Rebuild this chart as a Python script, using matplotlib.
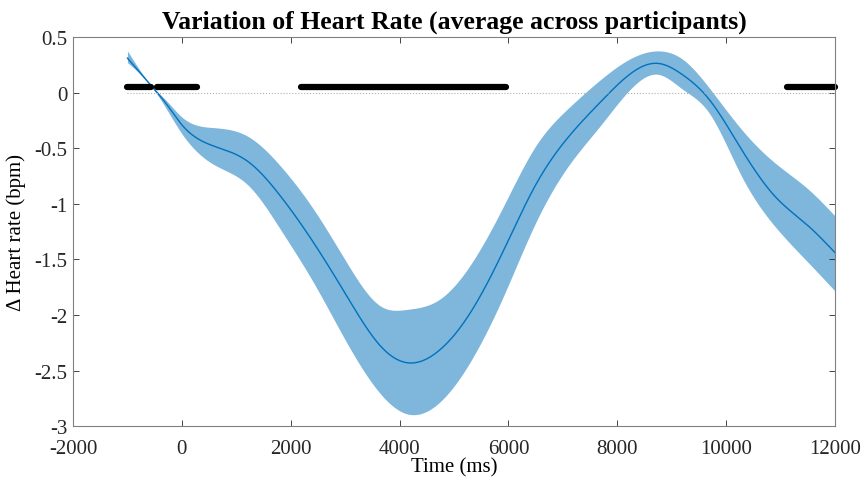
import numpy as np
import matplotlib.pyplot as plt
from matplotlib.ticker import FuncFormatter

plt.rcParams['font.family'] = ['Liberation Serif', 'DejaVu Serif']
plt.rcParams['axes.unicode_minus'] = False

# values
time_ms = [-1000, -560, -280, 0, 580, 1200, 1810, 2420, 3030, 3650, 4140,
           4700, 5300, 5900, 6500, 7100, 7700, 8300, 8740, 9200, 9660,
           10280, 10890, 11510, 12000]
hr_mean = [0.31, 0.06, -0.105, -0.29, -0.48, -0.615, -0.93, -1.35, -1.83,
           -2.28, -2.43, -2.33, -1.98, -1.43, -0.83, -0.40, -0.08, 0.19,
           0.263, 0.16, -0.045, -0.51, -0.93, -1.20, -1.44]
hr_upper = [0.375, 0.065, -0.075, -0.22, -0.315, -0.39, -0.66, -1.05, -1.53,
            -1.92, -1.95, -1.87, -1.55, -1.03, -0.48, -0.14, 0.12, 0.32,
            0.375, 0.30, 0.06, -0.33, -0.63, -0.87, -1.11]
hr_lower = [0.27, 0.055, -0.15, -0.37, -0.645, -0.825, -1.23, -1.71, -2.25,
            -2.71, -2.89, -2.80, -2.42, -1.84, -1.17, -0.66, -0.29, 0.06,
            0.165, 0.03, -0.165, -0.75, -1.20, -1.53, -1.785]

# significant time windows
sig_start = [-1000, -450, 2195, 11120]
sig_end = [-575, 280, 5950, 12000]
sig_level = 0.05

x_ticks = [-2000, 0, 2000, 4000, 6000, 8000, 10000, 12000]
y_ticks = [-3, -2.5, -2, -1.5, -1, -0.5, 0, 0.5]

t = np.linspace(time_ms[0], time_ms[-1], 800)

def spline(vals):
    # natural cubic spline through the read points
    x = np.array(time_ms, float)
    y = np.array(vals, float)
    n = len(x)
    h = np.diff(x)
    A = np.zeros((n, n))
    r = np.zeros(n)
    A[0, 0] = A[-1, -1] = 1
    for i in range(1, n - 1):
        A[i, i - 1] = h[i - 1]
        A[i, i] = 2 * (h[i - 1] + h[i])
        A[i, i + 1] = h[i]
        r[i] = 6 * ((y[i + 1] - y[i]) / h[i] - (y[i] - y[i - 1]) / h[i - 1])
    M = np.linalg.solve(A, r)
    k = np.clip(np.searchsorted(x, t) - 1, 0, n - 2)
    a = x[k + 1] - t
    b = t - x[k]
    hk = h[k]
    return (M[k] * a**3 / (6 * hk) + M[k + 1] * b**3 / (6 * hk)
            + (y[k] / hk - M[k] * hk / 6) * a + (y[k + 1] / hk - M[k + 1] * hk / 6) * b)

fig = plt.figure(figsize=(8.64, 4.81), dpi=100)
ax = fig.add_axes([0.0845, 0.112, 0.882, 0.809])

ax.fill_between(t, spline(hr_lower), spline(hr_upper), color='#7eb6dc', linewidth=0)
ax.plot(t, spline(hr_mean), color='#0072BD', linewidth=1.0)
ax.plot([time_ms[0], 12000], [0, 0], color='#b0b0b0', linestyle=':', linewidth=0.8)
for s, e in zip(sig_start, sig_end):
    ax.plot([s, e], [sig_level, sig_level], color='black', linewidth=4.5,
            solid_capstyle='round', clip_on=False)

ax.set_xlim(-2000, 12000)
ax.set_ylim(-3, 0.5)
ax.set_xticks(x_ticks)
ax.set_yticks(y_ticks)
ax.yaxis.set_major_formatter(FuncFormatter(lambda v, p: ('%g' % v)))
ax.tick_params(direction='in', top=True, right=True, labelsize=15,
               colors='#262626', length=4, width=0.6, pad=4)
ax.tick_params(axis='x', pad=9)
for sp in ax.spines.values():
    sp.set_color('#808080')
    sp.set_linewidth(0.8)

ax.set_xlabel('Time (ms)', fontsize=15, labelpad=0)
ax.set_ylabel('Δ Heart rate (bpm)', fontsize=15, labelpad=6)
ax.set_title('Variation of Heart Rate (average across participants)',
             fontsize=18.5, fontweight='bold', pad=7)

fig.savefig('out.png', dpi=100)
